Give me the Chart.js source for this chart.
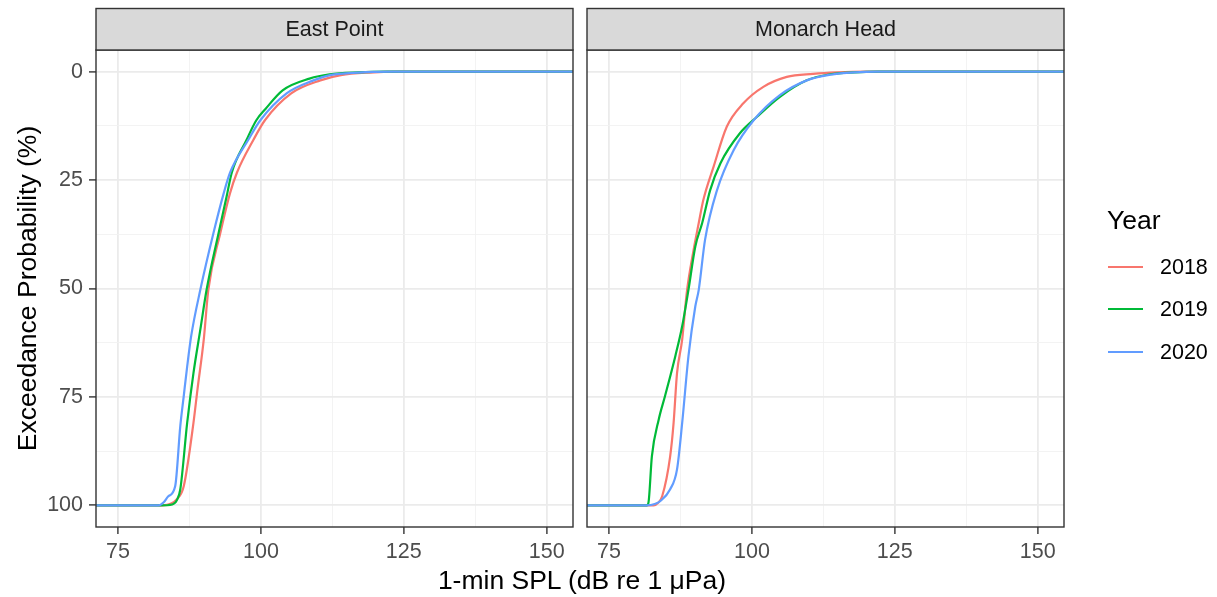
<!DOCTYPE html>
<html>
<head>
<meta charset="utf-8">
<script src="https://cdn.jsdelivr.net/npm/chart.js@4.4.1/dist/chart.umd.min.js"></script>
<style>
    html, body { margin: 0; padding: 0; background: #fff; }
    body { width: 1217px; height: 597px; position: relative; overflow: hidden;
           font-family: "Liberation Sans", Arial, sans-serif; }
    #leftBox { position: absolute; left: 0; top: 0; width: 580px; height: 597px; }
    #rightBox { position: absolute; left: 580px; top: 0; width: 637px; height: 597px; }
    #xTitle { position: absolute; left: 330px; width: 504px; top: 565px; text-align: center;
              font-size: 26.5px; line-height: 30px; color: #000; white-space: nowrap; }
    #legTitle { position: absolute; left: 1107px; top: 205px; font-size: 26.5px; line-height: 30px; color: #000; }
    .legKey { position: absolute; left: 1108px; width: 35px; height: 2px; }
    .legLab { position: absolute; left: 1160px; font-size: 21.5px; line-height: 26px; color: #000; }
</style>
</head>
<body>
<div id="leftBox"><canvas id="eastChart" width="580" height="597"></canvas></div>
<div id="rightBox"><canvas id="monarchChart" width="637" height="597"></canvas></div>
<div id="xTitle">1-min SPL (dB re 1 μPa)</div>
<div id="legend"></div>

<script>
// ---- data ----
const years = ['2018', '2019', '2020'];
const yearColors = ['#F8766D', '#00BA38', '#619CFF'];
const panelNames = ['East Point', 'Monarch Head'];

const xMajor = [75, 100, 125, 150];
const xMinor = [87.5, 112.5, 137.5];
const yMajor = [0, 25, 50, 75, 100];
const yMinor = [12.5, 37.5, 62.5, 87.5];

// East Point
const eastX2018 = [70, 82.7, 84.3, 85.3, 86.5, 88.2, 88.9, 90.0, 90.8, 92.9, 94.6, 95.8, 98.7, 100.7, 105.3, 110.4, 114, 119, 124, 156];
const eastY2018 = [100, 100, 99.6, 98.6, 95.6, 81.0, 73.3, 61.8, 50.3, 37.2, 28.0, 23.3, 15.7, 11.2, 5.0, 2.0, 0.8, 0.2, 0, 0];
const eastX2019 = [70, 82.4, 84.5, 85.3, 85.9, 87.1, 88.2, 89.4, 90.5, 92.6, 94.0, 94.9, 97.5, 99.2, 100.8, 103.8, 108.5, 112, 117, 122, 156];
const eastY2019 = [100, 100, 99.8, 98.8, 96.3, 81.0, 69.5, 59.5, 50.3, 37.2, 28.8, 23.3, 15.7, 11.2, 8.6, 4.3, 1.6, 0.6, 0.15, 0, 0];
const eastX2020 = [70, 82.1, 83.0, 83.8, 85.0, 85.9, 86.5, 87.1, 87.8, 89.4, 91.7, 93.5, 94.6, 97.8, 99.9, 104.5, 109.2, 112.1, 117, 123, 156];
const eastY2020 = [100, 100, 99.3, 97.9, 95.6, 81.7, 74.8, 68.0, 61.0, 50.3, 37.2, 28.0, 23.3, 15.7, 11.2, 5.0, 2.0, 0.8, 0.2, 0, 0];

// Monarch Head
const monX2018 = [70, 82.8, 83.6, 84.3, 85.7, 86.3, 86.9, 87.8, 88.6, 89.8, 90.7, 91.5, 93.3, 95.6, 98.5, 102.0, 106.1, 110.7, 115, 120, 156];
const monY2018 = [100, 100, 99.4, 97.9, 88.7, 81.0, 69.5, 61.8, 51.0, 41.1, 34.9, 29.6, 21.9, 12.7, 7.3, 3.5, 1.2, 0.5, 0.15, 0, 0];
const monX2019 = [70, 81.6, 81.9, 82.5, 83.7, 84.8, 86.6, 87.8, 88.9, 90.1, 91.3, 92.7, 94.5, 97.9, 100.9, 104.9, 109.6, 113.7, 118, 122, 156];
const monY2019 = [100, 100, 99.4, 88.7, 80.2, 74.8, 65.6, 58.7, 50.3, 40.3, 34.9, 27.3, 21.1, 14.2, 10.4, 5.8, 2.0, 0.6, 0.15, 0, 0];
const monX2020 = [70, 81.6, 83.0, 84.0, 85.7, 86.9, 87.8, 88.9, 90.1, 90.7, 91.8, 93.9, 96.8, 100.3, 104.9, 109.6, 113.7, 118, 122, 156];
const monY2020 = [100, 100, 99.7, 99.0, 96.3, 91.7, 81.0, 65.6, 54.1, 50.3, 38.8, 27.3, 18.1, 11.2, 5.4, 2.0, 0.7, 0.15, 0, 0];

const X_MIN = 71.15, X_MAX = 154.6;
const Y_MIN = -5, Y_MAX = 105;

const FONT = '"Liberation Sans", Arial, sans-serif';
const SMALL = 21.5;

function pts(xs, ys) {
    return xs.map((x, i) => ({ x: x, y: ys[i] }));
}

function makeDatasets(series) {
    return series.map((s, i) => ({
        label: years[i],
        data: pts(s[0], s[1]),
        borderColor: yearColors[i],
        borderWidth: 2.2,
        pointRadius: 0,
        fill: false,
        cubicInterpolationMode: 'monotone',
        order: 3 - i
    }));
}

const isMajor = (list, ctx) => ctx.tick && list.includes(ctx.tick.value);

// strip on top + panel border, ggplot theme_bw style
const facetPlugin = {
    id: 'facet',
    afterDatasetsDraw(chart) {
        const { ctx: c, chartArea: a } = chart;
        c.save();
        c.strokeStyle = '#333333';
        c.lineWidth = 1.4;
        c.strokeRect(a.left, a.top, a.right - a.left, a.bottom - a.top);
        c.restore();
    },
    afterDraw(chart) {
        const { ctx: c, chartArea: a } = chart;
        const name = chart.options.plugins.facet.name;
        const top = 8.5, bottom = a.top;
        c.save();
        c.fillStyle = '#D9D9D9';
        c.fillRect(a.left, top, a.right - a.left, bottom - top);
        c.strokeStyle = '#333333';
        c.lineWidth = 1.4;
        c.strokeRect(a.left, top, a.right - a.left, bottom - top);
        c.fillStyle = '#1A1A1A';
        c.font = SMALL + 'px ' + FONT;
        c.textAlign = 'center';
        c.textBaseline = 'middle';
        c.fillText(name, (a.left + a.right) / 2, (top + bottom) / 2 + 1);
        c.restore();
    }
};

function makePanel(canvasId, name, series, isLeft) {
    return new Chart(document.getElementById(canvasId), {
        type: 'line',
        data: { datasets: makeDatasets(series) },
        options: {
            responsive: false,
            animation: false,
            devicePixelRatio: 1,
            layout: { padding: isLeft ? { top: 50, right: 7, left: 0, bottom: 0 }
                                      : { top: 50, right: 153, left: 7, bottom: 0 } },
            plugins: {
                legend: { display: false },
                tooltip: { enabled: false },
                facet: { name: name }
            },
            scales: {
                x: {
                    type: 'linear',
                    min: X_MIN,
                    max: X_MAX,
                    afterBuildTicks: s => { s.ticks = xMajor.concat(xMinor).sort((a, b) => a - b).map(v => ({ value: v })); },
                    afterFit: s => { s.height = 70; },
                    ticks: {
                        autoSkip: false,
                        maxRotation: 0,
                        padding: 5,
                        color: '#4D4D4D',
                        font: { size: SMALL, family: FONT },
                        callback: v => xMajor.includes(v) ? String(v) : ''
                    },
                    grid: {
                        color: ctx => isMajor(xMajor, ctx) ? '#EBEBEB' : '#F2F2F2',
                        lineWidth: ctx => isMajor(xMajor, ctx) ? 1.8 : 0.9,
                        tickLength: 7,
                        tickWidth: 1.4,
                        tickColor: ctx => isMajor(xMajor, ctx) ? '#333333' : 'rgba(0,0,0,0)'
                    },
                    border: { display: false }
                },
                y: {
                    type: 'linear',
                    reverse: true,
                    min: Y_MIN,
                    max: Y_MAX,
                    afterBuildTicks: s => { s.ticks = yMajor.concat(yMinor).sort((a, b) => a - b).map(v => ({ value: v })); },
                    afterFit: s => { s.width = isLeft ? 96 : 0; },
                    ticks: {
                        display: isLeft,
                        autoSkip: false,
                        padding: 6,
                        color: '#4D4D4D',
                        font: { size: SMALL, family: FONT },
                        callback: v => yMajor.includes(v) ? String(v) : ''
                    },
                    grid: {
                        color: ctx => isMajor(yMajor, ctx) ? '#EBEBEB' : '#F2F2F2',
                        lineWidth: ctx => isMajor(yMajor, ctx) ? 1.8 : 0.9,
                        drawTicks: isLeft,
                        tickLength: 7,
                        tickWidth: 1.4,
                        tickColor: ctx => isMajor(yMajor, ctx) ? '#333333' : 'rgba(0,0,0,0)'
                    },
                    border: { display: false },
                    title: {
                        display: isLeft,
                        text: 'Exceedance Probability (%)',
                        color: '#000',
                        font: { size: 26.5, family: FONT },
                        padding: { top: 13, bottom: 0 }
                    }
                }
            }
        },
        plugins: [facetPlugin]
    });
}

makePanel('eastChart', panelNames[0],
    [[eastX2018, eastY2018], [eastX2019, eastY2019], [eastX2020, eastY2020]], true);
makePanel('monarchChart', panelNames[1],
    [[monX2018, monY2018], [monX2019, monY2019], [monX2020, monY2020]], false);

// legend (ggplot style, to the right)
const legendTops = [267, 309, 352];
let legendHtml = '<div id="legTitle">Year</div>';
years.forEach((yr, i) => {
    legendHtml += '<div class="legKey" style="top:' + (legendTops[i] - 1) + 'px;background:' + yearColors[i] + '"></div>';
    legendHtml += '<div class="legLab" style="top:' + (legendTops[i] - 13) + 'px">' + yr + '</div>';
});
document.getElementById('legend').innerHTML = legendHtml;
</script>
</body>
</html>
